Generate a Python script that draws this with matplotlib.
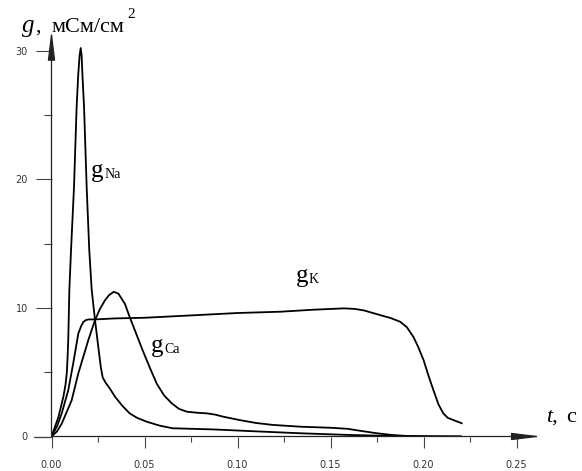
import matplotlib
matplotlib.use("Agg")
import matplotlib.pyplot as plt
from matplotlib.ticker import MultipleLocator, FormatStrFormatter

# conductances (t in s, g in mS/cm^2)
t_na = [0, 0.0037, 0.0064, 0.0075, 0.0082, 0.0086, 0.009, 0.0096, 0.0105, 0.0121, 0.0135,
        0.0144, 0.0151, 0.0157, 0.0162, 0.0166, 0.0175, 0.0189, 0.0203, 0.0216, 0.0234,
        0.0252, 0.0265, 0.0275, 0.029, 0.0315, 0.0341, 0.038, 0.042, 0.046, 0.0512,
        0.058, 0.065, 0.075, 0.087, 0.11, 0.134, 0.16, 0.18, 0.2, 0.22]
g_na = [0, 1.5, 3.1, 4.0, 4.9, 6.0, 7.5, 11.4, 14.5, 19.4, 25.6,
        28.2, 29.6, 30.2, 29.6, 28.2, 25.6, 19.4, 14.5, 11.4, 9.05,
        6.9, 5.4, 4.6, 4.2, 3.7, 3.1, 2.4, 1.8, 1.45, 1.15,
        0.85, 0.64, 0.6, 0.55, 0.4, 0.25, 0.12, 0.05, 0.02, 0]

t_k = [0, 0.003, 0.0055, 0.009, 0.0117, 0.0144, 0.016, 0.0171, 0.0185, 0.0198, 0.0233,
       0.034, 0.05, 0.08, 0.1, 0.123, 0.14, 0.157, 0.163, 0.168, 0.1766, 0.1825, 0.1874,
       0.191, 0.1945, 0.197, 0.2, 0.2027, 0.2053, 0.208, 0.2106, 0.213, 0.216, 0.2205]
g_k = [0, 0.8, 1.8, 3.6, 5.7, 8.0, 8.6, 8.9, 9.05, 9.1, 9.1,
       9.18, 9.23, 9.45, 9.6, 9.7, 9.85, 9.96, 9.92, 9.8, 9.44, 9.2, 8.92,
       8.5, 7.75, 7.0, 5.94, 4.7, 3.6, 2.5, 1.8, 1.45, 1.28, 1.03]

t_ca = [0, 0.003, 0.0055, 0.0108, 0.0144, 0.0198, 0.0234, 0.026, 0.0288, 0.031, 0.0335,
        0.036, 0.0395, 0.042, 0.0455, 0.049, 0.053, 0.0566, 0.0605, 0.0646, 0.0685,
        0.0727, 0.078, 0.0834, 0.088, 0.092, 0.101, 0.11, 0.119, 0.134, 0.15, 0.159,
        0.167, 0.175, 0.183, 0.19, 0.2, 0.22]
g_ca = [0, 0.4, 1.0, 2.8, 4.9, 7.5, 9.05, 9.9, 10.6, 11.0, 11.25,
        11.1, 10.3, 9.3, 8.0, 6.7, 5.3, 4.1, 3.2, 2.58, 2.15,
        1.93, 1.85, 1.8, 1.7, 1.55, 1.28, 1.05, 0.9, 0.76, 0.68, 0.6,
        0.42, 0.25, 0.12, 0.05, 0.01, 0]

x_ticks = [0.0, 0.05, 0.10, 0.15, 0.20, 0.25]
y_ticks = [0, 10, 20, 30]

W, H = 582, 471
fig = plt.figure(figsize=(W / 100, H / 100), dpi=100)
ax = fig.add_axes([51.5 / W, 34.5 / H, 490.2 / W, 406.5 / H])
ax.set_xlim(0, 0.2635)
ax.set_ylim(0, 31.6)

for t, g in [(t_na, g_na), (t_k, g_k), (t_ca, g_ca)]:
    ax.plot(t, g, color="black", lw=1.3, solid_joinstyle="round")

# axes drawn as arrows
for sp in ax.spines.values():
    sp.set_visible(False)
axcol = "#444444"
arr = dict(arrowstyle="-|>,head_length=1.8,head_width=0.22", color="#222222", lw=0.9,
           shrinkA=0, shrinkB=0, mutation_scale=10)
ax.annotate("", xy=(0.2635, 0), xytext=(0, 0), arrowprops=arr, annotation_clip=False)
ax.annotate("", xy=(0, 31.6), xytext=(0, 0), arrowprops=arr, annotation_clip=False)
ax.plot([-0.0095, 0], [0, 0], color=axcol, lw=0.9, clip_on=False)

ax.set_xticks(x_ticks)
ax.set_yticks(y_ticks)
ax.xaxis.set_major_formatter(FormatStrFormatter("%.2f"))
ax.xaxis.set_minor_locator(MultipleLocator(0.025))
ax.yaxis.set_minor_locator(MultipleLocator(5))
ax.tick_params(which="major", direction="out", length=8, width=0.8, color=axcol,
               labelsize=7, labelcolor="#333333")
ax.tick_params(axis="x", which="major", pad=9)
ax.tick_params(axis="y", which="major", length=11.5, pad=5.5)
ax.tick_params(which="minor", direction="out", width=0.8, color=axcol)
ax.tick_params(axis="x", which="minor", length=3.6)
ax.tick_params(axis="y", which="minor", length=6)


def put(px, py, s, size, style="normal"):
    fig.text(px / W, 1 - py / H, s, fontsize=size, fontstyle=style,
             family="Liberation Serif", va="baseline", ha="left")


# y axis label
put(22, 32, "g", 18, "italic")
put(35.5, 32, ",", 16)
put(51, 32, "мСм/см", 16)
put(127, 18, "2", 11)
# x axis label
put(546, 421.7, "t,", 16, "italic")
put(566, 421.7, "с", 16)
# curve labels
put(91, 177, "g", 18)
put(105, 178.3, "Na", 10)
put(151, 351.7, "g", 18)
put(164, 353, "Ca", 10)
put(296, 281.7, "g", 18)
put(309, 283, "K", 10)

fig.savefig("out.png", dpi=100)
